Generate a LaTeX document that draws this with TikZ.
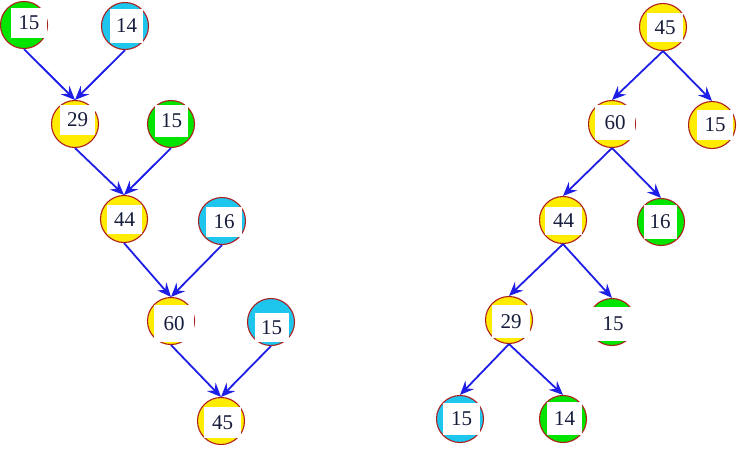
\documentclass[tikz,border=0pt]{standalone}
\usepackage{fontspec}
\setmainfont{Liberation Serif}
\usetikzlibrary{arrows.meta}
\definecolor{yel}{RGB}{255,236,0}
\definecolor{grn}{RGB}{0,228,0}
\definecolor{cyn}{RGB}{30,198,238}
\definecolor{rim}{RGB}{175,30,30}
\definecolor{arr}{RGB}{30,30,230}
\definecolor{ink}{RGB}{22,28,60}
\tikzset{
  ball/.style={circle,draw=rim,line width=1.1pt,fill=#1,minimum size=47pt,inner sep=0pt},
  lbl/.style n args={2}{fill=white,inner sep=0pt,minimum width=#1,minimum height=#2,text=ink,font=\fontsize{21}{21}\selectfont},
  link/.style={draw=arr,line width=1.8pt,-{Stealth[length=14pt,width=12pt,inset=5pt]}}
}
\begin{document}
\begin{tikzpicture}[x=1pt,y=-1pt]
\useasboundingbox (0,0) rectangle (737,448);
% left tree
\node[ball=grn] (a1) at (24,25) {};
\node[lbl={36pt}{30pt}] (ta1) at (29,23) {15};
\node[ball=cyn] (a2) at (125,26) {};
\node[lbl={33pt}{34pt}] (ta2) at (126.5,25.5) {14};
\node[ball=yel] (a3) at (75,124) {};
\node[lbl={35pt}{30pt}] (ta3) at (77.5,120) {29};
\node[ball=grn] (a4) at (171,124) {};
\node[lbl={33pt}{32pt}] (ta4) at (171.5,121) {15};
\node[ball=yel] (a5) at (124,219) {};
\node[lbl={35pt}{29pt}] (ta5) at (124.5,219.5) {44};
\node[ball=cyn] (a6) at (222,221) {};
\node[lbl={36pt}{30pt}] (ta6) at (224,222) {16};
\node[ball=yel] (a7) at (171,321) {};
\node[lbl={40pt}{37pt}] (ta7) at (174,323.5) {60};
\node[ball=cyn] (a8) at (271,322) {};
\node[lbl={34pt}{29pt}] (ta8) at (271.5,327.5) {15};
\node[ball=yel] (a9) at (221,421) {};
\node[lbl={37pt}{31pt}] (ta9) at (222.5,422.5) {45};
% right tree
\node[ball=yel] (b1) at (663,27) {};
\node[lbl={36pt}{29pt}] (tb1) at (665,27.5) {45};
\node[ball=yel] (b2) at (612,124) {};
\node[lbl={40pt}{35pt}] (tb2) at (615,122.5) {60};
\node[ball=yel] (b3) at (712,125) {};
\node[lbl={36pt}{30pt}] (tb3) at (715,125) {15};
\node[ball=yel] (b4) at (563,220) {};
\node[lbl={37pt}{28pt}] (tb4) at (563.5,221) {44};
\node[ball=grn] (b5) at (661,222) {};
\node[lbl={33pt}{34pt}] (tb5) at (660,222) {16};
\node[ball=yel] (b6) at (509,320) {};
\node[lbl={38pt}{33pt}] (tb6) at (511,321.5) {29};
\node[ball=grn] (b7) at (612,322) {};
\node[lbl={54pt}{34pt}] (tb7) at (613,324) {15};
\node[ball=cyn] (b8) at (460,419) {};
\node[lbl={37pt}{32pt}] (tb8) at (461.5,419) {15};
\node[ball=grn] (b9) at (563,419) {};
\node[lbl={35pt}{33pt}] (tb9) at (564.5,418.5) {14};
% arrows left
\draw[link] (a1.south) -- (a3.north);
\draw[link] (a2.south) -- (a3.north);
\draw[link] (a3.south) -- (a5.north);
\draw[link] (a4.south) -- (a5.north);
\draw[link] (a5.south) -- (a7.north);
\draw[link] (a6.south) -- (a7.north);
\draw[link] (a7.south) -- (a9.north);
\draw[link] (a8.south) -- (a9.north);
% arrows right
\draw[link] (b1.south) -- (b2.north);
\draw[link] (b1.south) -- (b3.north);
\draw[link] (b2.south) -- (b4.north);
\draw[link] (b2.south) -- (b5.north);
\draw[link] (b4.south) -- (b6.north);
\draw[link] (b4.south) -- (b7.north);
\draw[link] (b6.south) -- (b8.north);
\draw[link] (b6.south) -- (b9.north);
\end{tikzpicture}
\end{document}
